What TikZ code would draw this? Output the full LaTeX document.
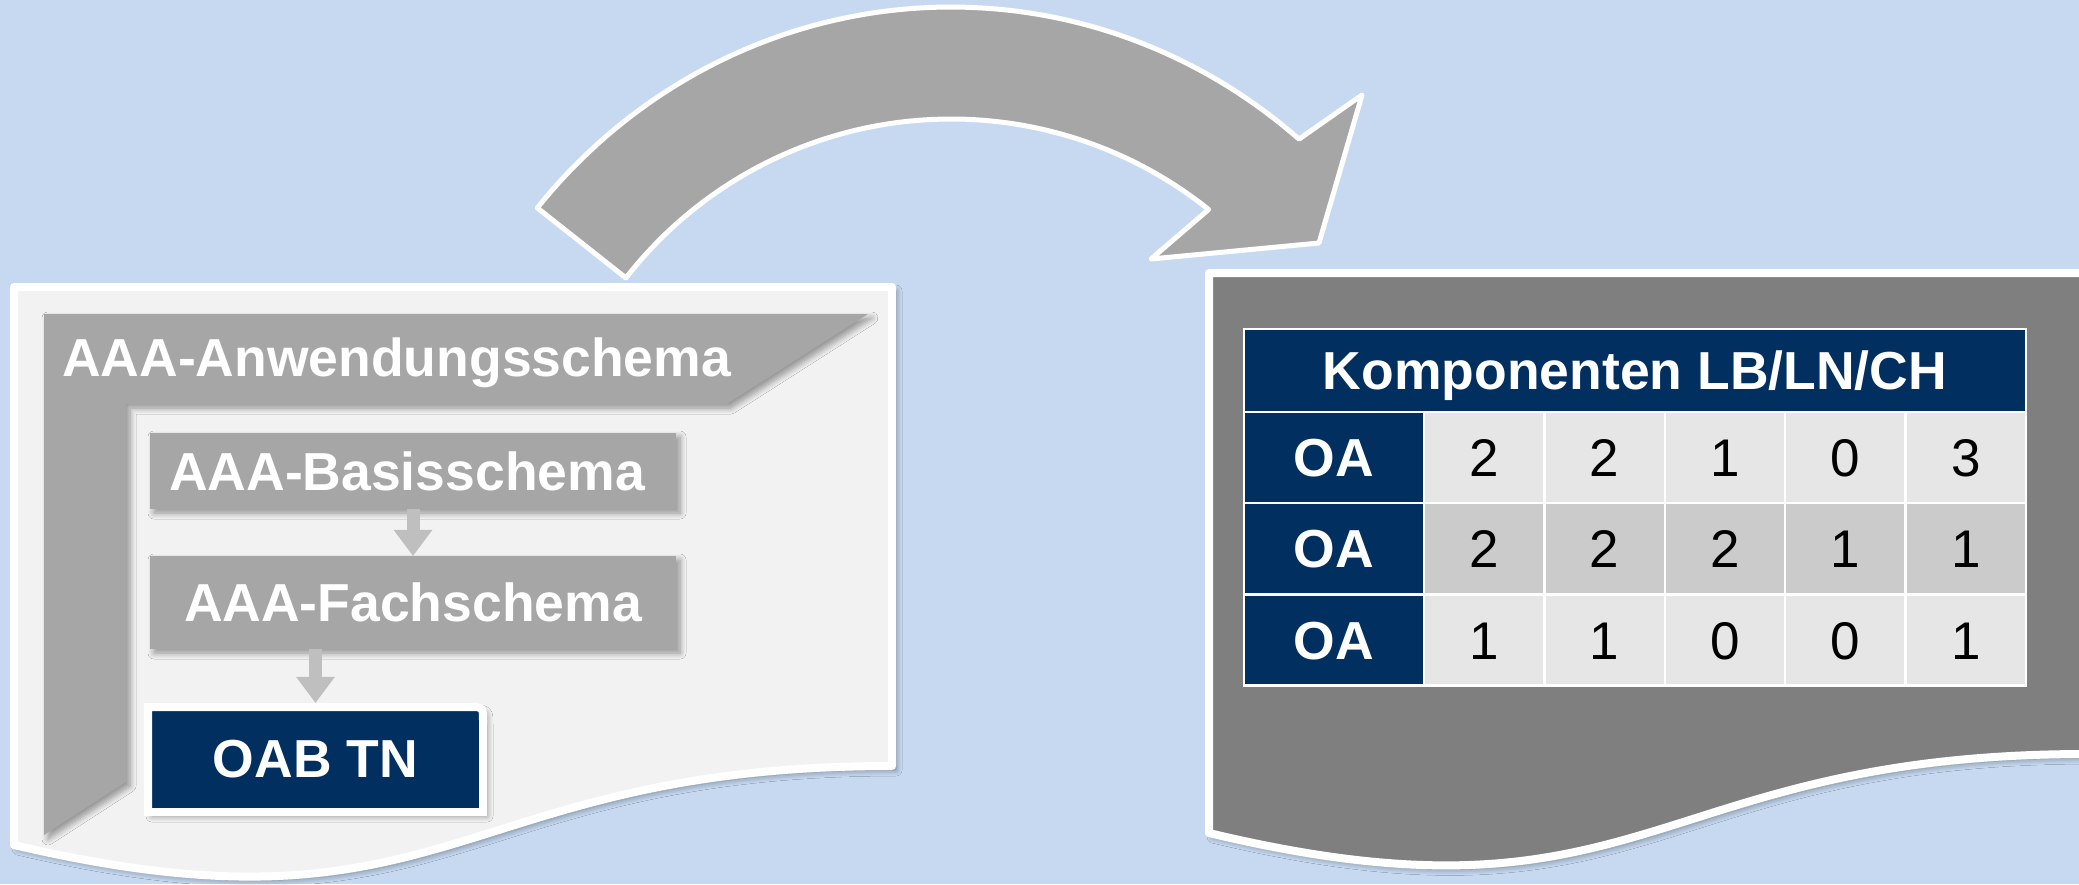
\documentclass[tikz,border=0pt]{standalone}
\usepackage{fontspec}
\setmainfont{Liberation Sans}
\usetikzlibrary{arrows.meta,shadows.blur}
\definecolor{bgblue}{HTML}{C6D9F1}
\definecolor{docfill}{HTML}{F2F2F2}
\definecolor{midgray}{HTML}{A6A6A6}
\definecolor{arrgray}{HTML}{BFBFBF}
\definecolor{navy}{HTML}{002F60}
\definecolor{darkdoc}{HTML}{7F7F7F}
\definecolor{cellA}{HTML}{E6E6E6}
\definecolor{cellB}{HTML}{CBCBCB}
\newcommand{\lblfont}{\fontsize{53.5}{60}\selectfont\bfseries}
\newcommand{\numfont}{\fontsize{53}{60}\selectfont}
\tikzset{
  softshadow/.style={blur shadow={shadow xshift=4pt, shadow yshift=-4pt, shadow blur radius=6pt, shadow blur steps=8, shadow opacity=40}},
  docshape/.style={draw=white, line width=8pt, line join=round, softshadow},
  lband/.style={fill=midgray, softshadow},
  graybox/.style={fill=midgray, text=white, font=\lblfont, inner sep=0pt, minimum width=526pt, text height=38pt, text depth=0pt, softshadow},
  blockarrow/.style={draw=arrgray, line width=13pt, -{Triangle[width=39pt,length=26pt,line width=0pt]}},
  oabframe/.style={draw=white, fill=navy, line width=8pt, softshadow},
  whitelbl/.style={text=white, font=\lblfont, inner sep=0pt},
  cell/.style={draw=white, line width=2.5pt, inner sep=0pt, minimum height=91pt, text height=38pt, text depth=0pt},
  navycell/.style={cell, fill=navy, text=white, font=\lblfont},
  numcell/.style={cell, text=black, font=\numfont, minimum width=120.4pt},
  bigarrow/.style={draw=white, fill=midgray, line width=5pt, line join=round}
}
\begin{document}
\begin{tikzpicture}[x=1pt,y=-1pt]
\useasboundingbox (0,0) rectangle (2079,884);
\fill[bgblue] (0,0) rectangle (2079,884);
\clip (0,0) rectangle (2079,884);

% left document
\path[docshape, fill=docfill] (14,287) -- (892,287) -- (892,766)
  .. controls (453,766) and (453,948) .. (14,845) -- cycle;
% right document
\path[docshape, fill=darkdoc] (1209,273) -- (2087,273) -- (2087,754)
  .. controls (1648,754) and (1648,938) .. (1209,833) -- cycle;

% L band
\path[lband] (44,314) -- (868,314) -- (727,404) -- (126,404) -- (126,782) -- (44,835) -- cycle;
\node[whitelbl, anchor=base west] (anw) at (62,376) {AAA-Anwendungsschema};

% boxes
\node[graybox, minimum height=76pt] (basis) at (413,471) {\hspace*{-12pt}AAA-Basisschema};
\node[graybox, minimum height=93pt] (fach) at (413,602.5) {AAA-Fachschema};

% OAB TN frame with one rounded corner
\path[oabframe] (148,812) -- (148,707) -- (469,707) .. controls (483,707) .. (483,721) -- (483,812) -- cycle;
\node[whitelbl, minimum width=335pt, minimum height=105pt] (oab) at (315.5,759.5) {OAB TN};

% small arrows
\draw[blockarrow] (basis.south) -- (fach.north);
\draw[blockarrow] (oab.north |- fach.south) -- ([yshift=4pt]oab.north);

% table
\node[navycell, minimum width=782pt, minimum height=83pt] (head) at (1635,370.5) {Komponenten LB/LN/CH};
\foreach \r/\y/\fc/\vals in {1/457.5/cellA/{2,2,1,0,3}, 2/548.5/cellB/{2,2,2,1,1}, 3/640/cellA/{1,1,0,0,1}} {
  \node[navycell, minimum width=180pt] (r\r c0) at (1334,\y) {OA};
  \foreach \v [count=\i] in \vals {
    \node[numcell, fill=\fc] (r\r c\i) at ({1424+120.4*(\i-0.5)},\y) {\v};
  }
}

% big curved arrow
\path[bigarrow] plot[domain=140.4:49.6, samples=80] ({951+537*cos(\x)},{561-554*sin(\x)})
  -- (1362,95) -- (1319,243) -- (1151,259)
  -- plot[domain=51.3:142.1, samples=80] ({951+412*cos(\x)},{531-412*sin(\x)}) -- cycle;
\end{tikzpicture}
\end{document}
